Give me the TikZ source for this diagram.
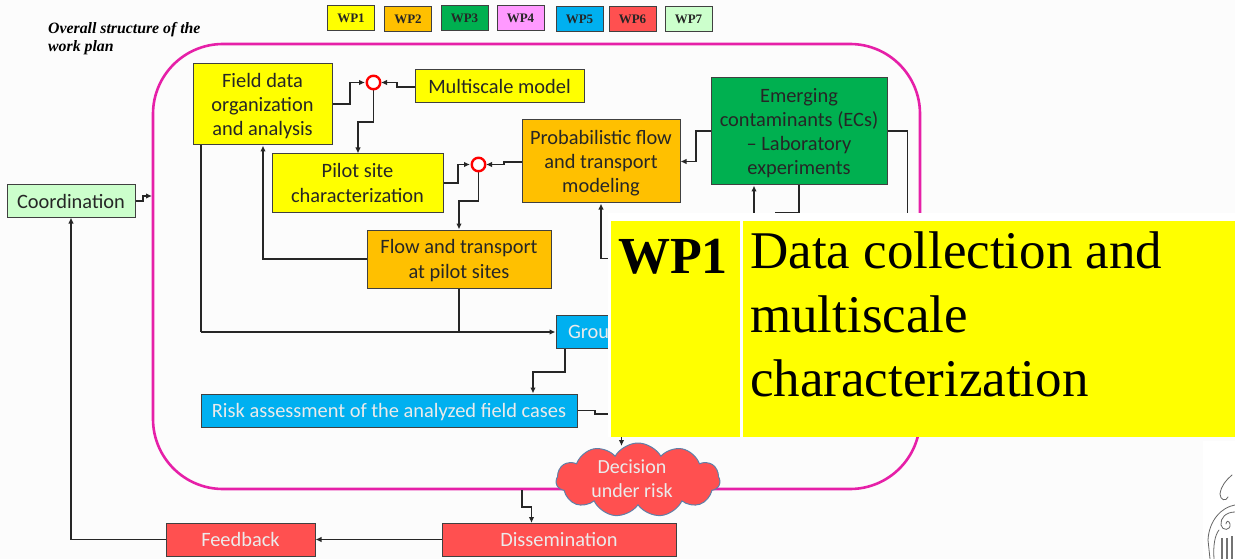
\documentclass[tikz,border=0pt]{standalone}
\usepackage{fontspec}
\setmainfont{Carlito}
\newfontfamily\serifx{Liberation Serif}
\usetikzlibrary{arrows.meta,shapes.symbols}
\definecolor{wpyel}{HTML}{FFFF00}
\definecolor{wporg}{HTML}{FFC000}
\definecolor{wpgrn}{HTML}{00B050}
\definecolor{wppnk}{HTML}{FF99FF}
\definecolor{wpblu}{HTML}{00B0F0}
\definecolor{wpred}{HTML}{FF5050}
\definecolor{wpmnt}{HTML}{CCFFCC}
\definecolor{framec}{HTML}{E620A8}
\definecolor{edgec}{HTML}{404040}
\definecolor{cloudc}{HTML}{5F80A8}
\newcommand{\tp}{\rule{0pt}{17.5pt}}
\tikzset{
 x=1pt,y=-1pt,
 boxs/.style={draw=edgec,line width=1pt,align=center,inner sep=0pt,font=\fontsize{20.4}{24.3}\selectfont,text=black!85},
 dn/.style={execute at begin node=\tp},
 dnn/.style={text depth=0pt,execute at begin node=\vspace*{4pt}},
 wtxt/.style={text=white!92!black},
 leg/.style={draw=edgec,line width=1pt,inner sep=0pt,minimum height=25,minimum width=47,font=\serifx\bfseries\fontsize{13}{14}\selectfont,text=black!85},
 conn/.style={draw=black!85,line width=1.2pt,-{Latex[length=6pt,width=5.5pt]}},
 plain/.style={draw=black!85,line width=1.2pt},
 sumc/.style={circle,draw=red,line width=2.4pt,fill=white,minimum size=13.5,inner sep=0pt},
 ovl/.style={fill=wpyel,inner sep=0pt,anchor=north west,align=left,text=black},
 orn/.style={draw=black!60,line width=.8pt,line cap=round},
}
\begin{document}
\begin{tikzpicture}
\useasboundingbox (0,0) rectangle (1235,559);
\fill[black!1] (0,0) rectangle (1235,559);
% ornament
\fill[white] (1203,441) rectangle (1235,559);
\draw[orn] (1232,475) .. controls (1226,480) and (1221,486) .. (1220,494) .. controls (1220,500) and (1226,502) .. (1228,497);
\draw[orn] (1235,505) .. controls (1222,507) and (1209,520) .. (1208,540) -- (1210,559);
\draw[orn] (1235,512) .. controls (1226,512) and (1220,518) .. (1221,525) .. controls (1222,531) and (1231,531) .. (1230,524) .. controls (1229,520) and (1226,521) .. (1226,524);
\draw[orn] (1214,559) .. controls (1213,545) and (1215,535) .. (1219,530);
\draw[draw=black!55,line width=1.6pt] (1222,538) -- (1222,559) (1227,538) -- (1227,559) (1232,536) -- (1232,559);
% legend
\foreach \n/\c/\x/\yy in {WP1/wpyel/351/18.5,WP2/wporg/408/19,WP3/wpgrn/464.5/18,WP4/wppnk/520.5/18.5,WP5/wpblu/579.5/19.5,WP6/wpred/632.5/19,WP7/wpmnt/688.5/19}{
 \node[leg,fill=\c] (l\n) at (\x,\yy) {\n};
}
\node[anchor=base west,inner sep=0pt,align=left,font=\serifx\bfseries\itshape\fontsize{15.8}{18.3}\selectfont] (title) at (48,51.5) {Overall structure of the\\work plan};
% frame
\draw[framec,line width=2.6pt,rounded corners=70] (153,44) rectangle (920,489);
\coordinate (frameL) at (152,196);
\coordinate (frameB) at (522,490);
% boxes
\node[boxs,dnn,fill=wpyel,minimum width=139,minimum height=81] (field) at (262.5,104.5) {Field data\\organization\\and analysis};
\node[boxs,fill=wpyel,minimum width=169,minimum height=33] (multi) at (499.5,86.5) {Multiscale model};
\node[boxs,dnn,fill=wpyel,minimum width=171,minimum height=58] (pilot) at (357.5,183) {Pilot site\\characterization};
\node[boxs,dnn,fill=wporg,minimum width=158,minimum height=83] (prob) at (601,161.5) {Probabilistic flow\\and transport\\modeling};
\node[boxs,dnn,fill=wporg,minimum width=184,minimum height=58] (flow) at (459,259) {Flow and transport\\at pilot sites};
\node[boxs,dnn,fill=wpgrn,minimum width=176,minimum height=107] (emerg) at (799,131.5) {Emerging\\contaminants (ECs)\\– Laboratory\\experiments};
\node[boxs,fill=wpmnt,minimum width=128,minimum height=32] (coord) at (71,201) {Coordination};
\node[boxs,fill=wpblu,wtxt,minimum height=33,text width=140,align=left] (ground) at (626,331.5) {\hspace*{12pt}Grou};
\node[boxs,dn,fill=wpblu,wtxt,minimum width=376,minimum height=33] (risk) at (389,410.5) {Risk assessment of the analyzed field cases};
\node[boxs,fill=wpred,wtxt,minimum width=149,minimum height=33] (feed) at (240.5,539.5) {Feedback};
\node[boxs,fill=wpred,wtxt,minimum width=234,minimum height=33] (dissem) at (559,540) {Dissemination};
\coordinate (hiddenA) at (615,258.5);
\coordinate (hiddenB) at (615,414);
\coordinate (hiddenC) at (754,225);
\coordinate (hiddenD) at (775.5,225);
\coordinate (hiddenE) at (907.5,225);
\coordinate (hiddenF) at (621.5,430);
% connectors
\draw[conn] (field.east |- 0,104) -- (350,104) -- (350,82.5) -- (365,82.5);
\draw[conn] (multi.west |- 0,87) -- (397,87) -- (397,82.5) -- (381,82.5);
\draw[conn] (373.5,90) -- (373.5,122) -- (358,122) -- (pilot.north -| 358,0);
\draw[conn] (pilot.east |- 0,183) -- (458,183) -- (458,164.5) -- (470,164.5);
\draw[conn] (prob.west |- 0,162) -- (504,162) -- (504,164.5) -- (486,164.5);
\draw[conn] (478.5,172) -- (478.5,201) -- (459,201) -- (flow.north -| 459,0);
\draw[conn] (flow.west |- 0,259) -- (263,259) -- (field.south -| 263,0);
\draw[conn] (emerg.west |- 0,131) -- (696,131) -- (696,161.5) -- (prob.east |- 0,161.5);
\draw[conn] (hiddenA) -- (601,258.5) -- (prob.south -| 601,0);
\draw[conn] (hiddenC) -- (emerg.south -| 754,0);
\draw[plain] (emerg.south -| 799,0) -- (799,213) -- (775.5,213) -- (hiddenD);
\draw[plain] (emerg.east |- 0,131) -- (907.5,131) -- (hiddenE);
\draw[plain] (field.south -| 201,0) -- (201,332);
\draw[conn] (201,332) -- (ground.west |- 0,332);
\draw[plain] (flow.south -| 459,0) -- (459,332);
\draw[conn] (ground.south -| 565,0) -- (565,372) -- (533,372) -- (risk.north -| 533,0);
\draw[conn] (coord.east |- 0,201) -- (143,201) -- (143,196) -- (frameL);
\draw[conn] (feed.west) -- (71,539.5) -- (coord.south -| 71,0);
\draw[conn] (dissem.west |- 0,539.5) -- (feed.east);
\draw[conn] (frameB) -- (522,507) -- (531.5,507) -- (dissem.north -| 531.5,0);
\draw[plain] (risk.east) -- (595,410.5) -- (595,414) -- (hiddenB);
\node[sumc] (s1) at (373.5,82.5) {};
\node[sumc] (s2) at (478.5,164.5) {};
% cloud
\node[cloud,cloud puffs=11,cloud puff arc=120,aspect=2.2,draw=cloudc,line width=1pt,fill=wpred,minimum width=164,minimum height=74,inner sep=0pt] (dec) at (638,480) {};
\node[align=center,inner sep=0pt,text=white!92!black,font=\fontsize{20}{24}\selectfont] (dectxt) at (632,479) {Decision\\under risk};
\draw[conn] (hiddenF) -- (621.5,446);
% overlay
\fill[white] (608,213) rectangle (1235,437);
\node[ovl,minimum width=129,minimum height=216] (wpa) at (611,221) {};
\node[ovl,minimum width=492,minimum height=216] (wpb) at (743,221) {};
\node[anchor=base west,inner sep=0pt,font=\serifx\bfseries\fontsize{52}{52}\selectfont] (wpt) at (618,273) {WP1};
\node[anchor=base west,inner sep=0pt,align=left,font=\serifx\fontsize{53}{64}\selectfont] (wpd) at (750,396) {Data collection and\\multiscale\\characterization};
\end{tikzpicture}
\end{document}
